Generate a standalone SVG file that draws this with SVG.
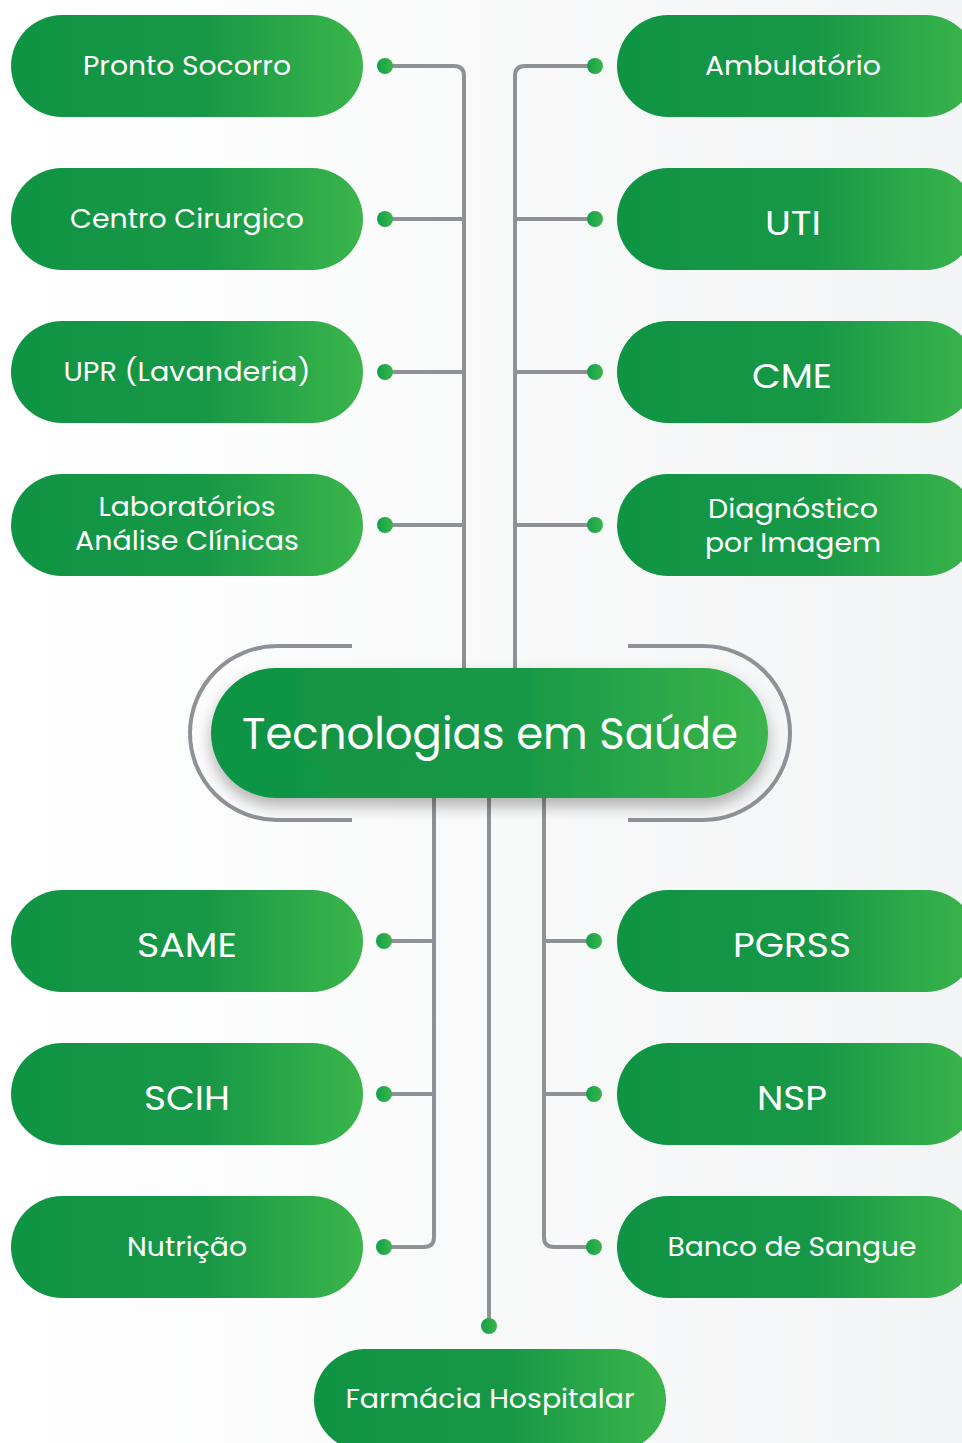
<svg xmlns="http://www.w3.org/2000/svg" width="962" height="1443" viewBox="0 0 962 1443">
<defs>
<linearGradient id="bg" x1="0" y1="0" x2="1" y2="0">
<stop offset="0" stop-color="#ffffff"/><stop offset="1" stop-color="#f3f4f5"/>
</linearGradient>
<linearGradient id="g" x1="0" y1="0" x2="1" y2="0">
<stop offset="0" stop-color="#0f9444"/><stop offset="0.55" stop-color="#179846"/><stop offset="1" stop-color="#3bb54b"/>
</linearGradient>
<linearGradient id="gd" x1="0" y1="0" x2="1" y2="0">
<stop offset="0" stop-color="#12a04a"/><stop offset="1" stop-color="#3bb54b"/>
</linearGradient>
<filter id="sh" x="-10%" y="-20%" width="120%" height="150%">
<feDropShadow dx="0" dy="8" stdDeviation="8" flood-color="#000" flood-opacity="0.3"/>
</filter>
<style>
.n{fill:url(#g)}
.t{fill:#fff;font-family:Poppins,Inter,"Noto Sans",sans-serif;text-anchor:middle}
.s{font-size:26px}
.b{font-size:34px}
.ln{fill:none;stroke:#8e9196;stroke-width:4}
.d{fill:url(#gd)}
</style>
</defs>
<rect width="962" height="1443" fill="url(#bg)"/>
<g id="connectors">
<path class="ln" d="M385 66 H454 Q464 66 464 76 V668"/>
<path class="ln" d="M385 219 H464 M385 372 H464 M385 525 H464"/>
<path class="ln" d="M595 66 H525 Q515 66 515 76 V668"/>
<path class="ln" d="M595 219 H515 M595 372 H515 M595 525 H515"/>
<path class="ln" d="M434 798 V1237 Q434 1247 424 1247 H384 M384 941 H434 M384 1094 H434"/>
<path class="ln" d="M489 798 V1326"/>
<path class="ln" d="M544 798 V1237 Q544 1247 554 1247 H594 M594 941 H544 M594 1094 H544"/>
<path class="ln" d="M352 646 H277 A87 87 0 0 0 277 820 H352"/>
<path class="ln" d="M628 646 H703 A87 87 0 0 1 703 820 H628"/>
<circle class="d" cx="385" cy="66" r="8"/><circle class="d" cx="385" cy="219" r="8"/>
<circle class="d" cx="385" cy="372" r="8"/><circle class="d" cx="385" cy="525" r="8"/>
<circle class="d" cx="595" cy="66" r="8"/><circle class="d" cx="595" cy="219" r="8"/>
<circle class="d" cx="595" cy="372" r="8"/><circle class="d" cx="595" cy="525" r="8"/>
<circle class="d" cx="384" cy="941" r="8"/><circle class="d" cx="384" cy="1094" r="8"/>
<circle class="d" cx="384" cy="1247" r="8"/>
<circle class="d" cx="594" cy="941" r="8"/><circle class="d" cx="594" cy="1094" r="8"/>
<circle class="d" cx="594" cy="1247" r="8"/>
<circle class="d" cx="489" cy="1326" r="8"/>
</g>
<g id="center">
<rect class="n" x="211" y="668" width="557" height="130" rx="65" filter="url(#sh)"/>
<text class="t" x="490" y="749" font-size="44" textLength="496" lengthAdjust="spacingAndGlyphs">Tecnologias em Saúde</text>
</g>
<g id="pronto"><rect class="n" x="11" y="15" width="352" height="102" rx="51"/><text class="t s" x="187" y="75" textLength="208" lengthAdjust="spacingAndGlyphs">Pronto Socorro</text></g>
<g id="centro"><rect class="n" x="11" y="168" width="352" height="102" rx="51"/><text class="t s" x="187" y="228" textLength="234" lengthAdjust="spacingAndGlyphs">Centro Cirurgico</text></g>
<g id="upr"><rect class="n" x="11" y="321" width="352" height="102" rx="51"/><text class="t s" x="187" y="381" textLength="247" lengthAdjust="spacingAndGlyphs">UPR (Lavanderia)</text></g>
<g id="lab"><rect class="n" x="11" y="474" width="352" height="102" rx="51"/><text class="t s" x="187" y="516" textLength="177" lengthAdjust="spacingAndGlyphs">Laboratórios</text><text class="t s" x="187" y="550" textLength="224" lengthAdjust="spacingAndGlyphs">Análise Clínicas</text></g>
<g id="ambulatorio"><rect class="n" x="617" y="15" width="360" height="102" rx="51"/><text class="t s" x="793" y="75" textLength="176" lengthAdjust="spacingAndGlyphs">Ambulatório</text></g>
<g id="uti"><rect class="n" x="617" y="168" width="360" height="102" rx="51"/><text class="t b" x="793" y="235" textLength="56" lengthAdjust="spacingAndGlyphs">UTI</text></g>
<g id="cme"><rect class="n" x="617" y="321" width="360" height="102" rx="51"/><text class="t b" x="792" y="388" textLength="80" lengthAdjust="spacingAndGlyphs">CME</text></g>
<g id="diag"><rect class="n" x="617" y="474" width="360" height="102" rx="51"/><text class="t s" x="793" y="518" textLength="170" lengthAdjust="spacingAndGlyphs">Diagnóstico</text><text class="t s" x="793" y="552" textLength="176" lengthAdjust="spacingAndGlyphs">por Imagem</text></g>
<g id="same"><rect class="n" x="11" y="890" width="352" height="102" rx="51"/><text class="t b" x="187" y="957" textLength="100" lengthAdjust="spacingAndGlyphs">SAME</text></g>
<g id="scih"><rect class="n" x="11" y="1043" width="352" height="102" rx="51"/><text class="t b" x="187" y="1110" textLength="86" lengthAdjust="spacingAndGlyphs">SCIH</text></g>
<g id="nutricao"><rect class="n" x="11" y="1196" width="352" height="102" rx="51"/><text class="t s" x="187" y="1256" textLength="120" lengthAdjust="spacingAndGlyphs">Nutrição</text></g>
<g id="pgrss"><rect class="n" x="617" y="890" width="360" height="102" rx="51"/><text class="t b" x="792" y="957" textLength="118" lengthAdjust="spacingAndGlyphs">PGRSS</text></g>
<g id="nsp"><rect class="n" x="617" y="1043" width="360" height="102" rx="51"/><text class="t b" x="792" y="1110" textLength="70" lengthAdjust="spacingAndGlyphs">NSP</text></g>
<g id="banco"><rect class="n" x="617" y="1196" width="360" height="102" rx="51"/><text class="t s" x="792" y="1256" textLength="249" lengthAdjust="spacingAndGlyphs">Banco de Sangue</text></g>
<g id="farmacia"><rect class="n" x="314" y="1349" width="352" height="102" rx="51"/><text class="t s" x="490" y="1408" textLength="289" lengthAdjust="spacingAndGlyphs">Farmácia Hospitalar</text></g>
</svg>
